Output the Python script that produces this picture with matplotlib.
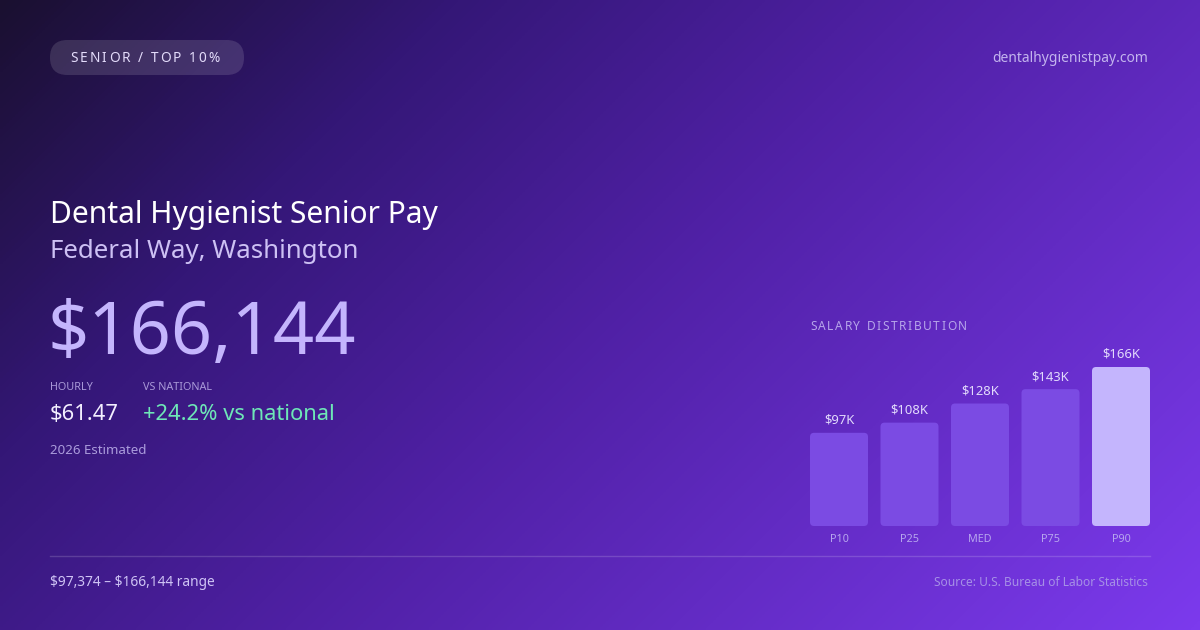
import numpy as np
import matplotlib
matplotlib.use("Agg")
import matplotlib.pyplot as plt
from matplotlib.colors import LinearSegmentedColormap
from matplotlib.patches import FancyBboxPatch

plt.rcParams["font.family"] = ["Noto Sans", "DejaVu Sans"]

# ── data ────────────────────────────────────────────────────────
percentiles = ["P10", "P25", "MED", "P75", "P90"]
salaries = [97374, 108000, 128000, 143000, 166144]
value_labels = [r"\$97K", r"\$108K", r"\$128K", r"\$143K", r"\$166K"]

badge = "SENIOR / TOP 10%"
site = "dentalhygienistpay.com"
title = "Dental Hygienist Senior Pay"
location = "Federal Way, Washington"
headline = r"\$166,144"
hourly = r"\$61.47"
vs_national = "+24.2% vs national"
estimate_note = "2026 Estimated"
range_note = "\\$97,374 \u2013 \\$166,144 range"
source_note = "Source: U.S. Bureau of Labor Statistics"

W, H = 1200, 630
fig = plt.figure(figsize=(12, 6.3), dpi=100)

# ── background (pixel coordinates, y down) ─────────────────────
bg = fig.add_axes([0, 0, 1, 1])
bg.set_xlim(0, W)
bg.set_ylim(H, 0)
bg.axis("off")

cmap = LinearSegmentedColormap.from_list(
    "bg", [(0.0, "#1a1030"), (0.25, "#341777"), (0.5, "#4f20a4"), (1.0, "#7c3aed")]
)
gx, gy = np.meshgrid(np.linspace(0, 1, 400), np.linspace(0, 1, 210))
grad = (gx * W + gy * H) / (W + H)
bg.imshow(grad, cmap=cmap, extent=(0, W, H, 0), aspect="auto", zorder=0)

renderer = fig.canvas.get_renderer()


def spaced_text(ax, x, y, s, spacing, **kw):
    """Draw text char by char with extra tracking (px)."""
    for ch in s:
        t = ax.text(x, y, ch, ha="left", va="center", **kw)
        bb = t.get_window_extent(renderer=renderer)
        x += bb.width + spacing
    return x


# badge pill
pill = FancyBboxPatch((50, 40), 194, 35, boxstyle="round,pad=0,rounding_size=17.5",
                      fc=(1, 1, 1, 0.13), ec="none", zorder=2)
bg.add_patch(pill)
spaced_text(bg, 70, 58.5, badge, 2.1, fontsize=9.8, color="#e4dcfb", zorder=3)

bg.text(1148, 59, site, ha="right", va="center", fontsize=10, color="#c3b4ee", zorder=3)

# headline block
bg.text(50, 215, title, ha="left", va="center", fontsize=21.6, color="#ffffff", zorder=3)
bg.text(50, 251, location, ha="left", va="center", fontsize=18.6, color="#cdc1f4", zorder=3)
bg.text(48, 335, headline, ha="left", va="center", fontsize=52, fontweight="light",
        color="#c4b5fd", zorder=3)

bg.text(50, 388, "HOURLY", ha="left", va="center", fontsize=7.8, color="#a999d8", zorder=3)
bg.text(143, 388, "VS NATIONAL", ha="left", va="center", fontsize=7.8, color="#a999d8", zorder=3)
bg.text(50, 414, hourly, ha="left", va="center", fontsize=15.8, color="#f3efff", zorder=3)
bg.text(143, 414, vs_national, ha="left", va="center", fontsize=15.8, color="#6ee7b7", zorder=3)
bg.text(50, 450, estimate_note, ha="left", va="center", fontsize=9.6, color="#ab9cdc", zorder=3)

# chart heading
spaced_text(bg, 810, 326, "SALARY DISTRIBUTION", 1.6, fontsize=8.6, color="#b6a5ea", zorder=3)

# divider + footer
bg.plot([50, 1150], [556, 556], color=(1, 1, 1, 0.16), lw=1, zorder=2)
bg.text(50, 582, range_note, ha="left", va="center", fontsize=9.9, color="#cfc4f5", zorder=3)
bg.text(1148, 582, source_note, ha="right", va="center", fontsize=8.6, color="#a690e6", zorder=3)

# ── bar chart ─────────────────────────────────────────────────
bar_left, bar_right = 810, 1150
bar_bottom, bar_top = 526, 367
ax = fig.add_axes([bar_left / W, 1 - bar_bottom / H,
                   (bar_right - bar_left) / W, (bar_bottom - bar_top) / H])
ax.set_facecolor("none")
ax.axis("off")

pitch = 70.5
width = 58 / pitch
n = len(salaries)
ax.set_xlim(-width / 2, n - 1 + width / 2)
ax.set_ylim(0, max(salaries))

x = np.arange(n)
colors = ["#7b4be3"] * (n - 1) + ["#c4b5fd"]
bars = ax.bar(x, salaries, width=width, color=colors)

# rounded corners: swap each bar for a FancyBboxPatch of the same extent
px_per_x = (bar_right - bar_left) / (ax.get_xlim()[1] - ax.get_xlim()[0])
px_per_y = (bar_bottom - bar_top) / max(salaries)
radius_px = 4
for b, c in zip(bars, colors):
    b.set_visible(False)
    rb = FancyBboxPatch((b.get_x(), b.get_y()), b.get_width(), b.get_height(),
                        boxstyle=f"round,pad=0,rounding_size={radius_px / px_per_x}",
                        mutation_aspect=px_per_x / px_per_y, fc=c, ec="none",
                        clip_on=False)
    ax.add_patch(rb)

for xi, v, lab in zip(x, salaries, value_labels):
    ax.annotate(lab, (xi, v), xytext=(0, 6), textcoords="offset pixels",
                ha="center", va="bottom", fontsize=9.4, color="#e2dafc",
                annotation_clip=False)
    ax.annotate(percentiles[xi], (xi, 0), xytext=(0, -13), textcoords="offset pixels",
                ha="center", va="center", fontsize=7.8, color="#b7a6ee",
                annotation_clip=False)

fig.savefig("out.png", dpi=100)
